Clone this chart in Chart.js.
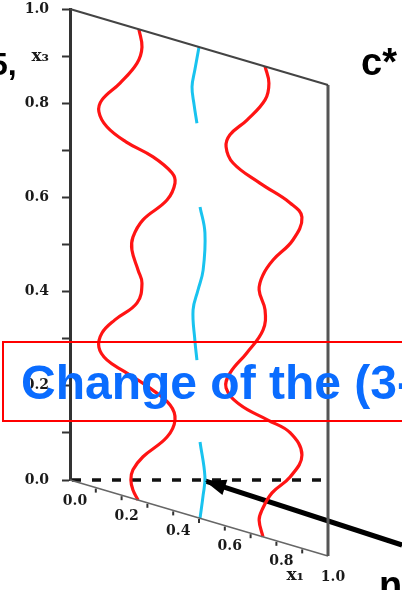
<!DOCTYPE html>
<html>
<head>
<meta charset="utf-8">
<script src="https://cdn.jsdelivr.net/npm/chart.js@4.4.1/dist/chart.umd.min.js"></script>
<style>
  html, body { margin: 0; padding: 0; background: #fff; }
  #wrap { width: 402px; height: 590px; overflow: hidden; }
</style>
</head>
<body>
<div id="wrap"><canvas id="chart" width="402" height="590"></canvas></div>
<script>
// oblique view: the x1 axis runs down-right, so a point sinks by SKEW * x1
const SKEW = 76 / 471;

// vertical axis (x3)
const x3TickLabels = ['0.0', '', '0.2', '', '0.4', '', '0.6', '', '0.8', 'x\u2083', '1.0'];

// slanted axis (x1)
const x1Ticks = [0, 0.2, 0.4, 0.6, 0.8, 1.0];
const x1TickLabels = ['0.0', '0.2', '0.4', '0.6', '0.8', '1.0'];
const x1MinorTicks = [0.1, 0.2, 0.3, 0.4, 0.5, 0.6, 0.7, 0.8, 0.9];

// box edges (x1, x3)
const topEdgeX1 = [0, 1];
const topEdgeX3 = [1, 1];
const rightEdgeX1 = [1, 1];
const rightEdgeX3 = [1, 0];
const bottomEdgeX1 = [0, 1];
const bottomEdgeX3 = [0, 0];

// red interface, left
const redLeftX3 = [1.0, 0.964, 0.927, 0.874, 0.827, 0.800, 0.773, 0.753, 0.738, 0.716,
  0.696, 0.655, 0.598, 0.555, 0.527, 0.488, 0.463, 0.418, 0.368, 0.332,
  0.300, 0.278, 0.264, 0.245, 0.222, 0.193, 0.152, 0.095, 0.061, 0.038, 0.018, 0.0];
const redLeftX1 = [0.267, 0.279, 0.260, 0.194, 0.124, 0.112, 0.143, 0.217, 0.322, 0.395,
  0.407, 0.376, 0.283, 0.244, 0.240, 0.264, 0.279, 0.260, 0.174, 0.124,
  0.112, 0.143, 0.213, 0.310, 0.388, 0.407, 0.376, 0.283, 0.244, 0.236, 0.244, 0.264];

// red interface, right
const redRightX3 = [1.0, 0.967, 0.929, 0.875, 0.833, 0.805, 0.775, 0.749, 0.726, 0.703,
  0.649, 0.594, 0.556, 0.522, 0.483, 0.439, 0.381, 0.327, 0.293, 0.266,
  0.251, 0.238, 0.198, 0.144, 0.099, 0.056, 0.033, 0.0];
const redRightX1 = [0.756, 0.771, 0.756, 0.686, 0.620, 0.605, 0.632, 0.736, 0.853, 0.899,
  0.864, 0.787, 0.748, 0.733, 0.756, 0.748, 0.686, 0.620, 0.605, 0.659,
  0.767, 0.853, 0.899, 0.853, 0.783, 0.744, 0.733, 0.748];

// cyan midline (broken)
const cyanX3 = [1.0, 0.949, 0.911, 0.874, 0.837, null, 0.661, 0.609, 0.529, 0.483, 0.438, 0.375, 0.334, null, 0.162, 0.091, 0.051, 0.0];
const cyanX1 = [0.500, 0.484, 0.473, 0.481, 0.492, null, 0.504, 0.523, 0.516, 0.496, 0.477, 0.484, 0.492, null, 0.504, 0.523, 0.516, 0.504];

// dashed level line and pointer arrow (screen plane)
const levelX = [0, 0.977];
const levelY = [0, 0];
const arrowX = [1.287, 0.523];
const arrowY = [-0.138, -0.002];

const proj = (x1s, x3s) => x1s.map((v, i) =>
  v == null ? { x: null, y: null } : { x: v, y: x3s[i] - SKEW * v });
const flat = (xs, ys) => xs.map((v, i) => ({ x: v, y: ys[i] }));

const line = (data, color, width, extra) => Object.assign({
  data, borderColor: color, borderWidth: width, pointRadius: 0,
  showLine: true, fill: false, clip: false, tension: 0,
}, extra || {});

const overlay = {
  id: 'overlay',
  afterDatasetsDraw(chart) {
    const { ctx, scales: { x, y } } = chart;
    const px = (x1, x3) => [x.getPixelForValue(x1), y.getPixelForValue(x3 - SKEW * x1)];
    ctx.save();

    // slanted axis ticks + labels
    ctx.strokeStyle = '#333';
    ctx.lineWidth = 2;
    x1MinorTicks.forEach((v) => {
      const [a, b] = px(v, 0);
      ctx.beginPath();
      ctx.moveTo(a, b + 1);
      ctx.lineTo(a, b + 5);
      ctx.stroke();
    });
    ctx.fillStyle = '#1a1a1a';
    ctx.font = 'bold 14px "DejaVu Serif"';
    ctx.textAlign = 'center';
    ctx.textBaseline = 'middle';
    x1Ticks.forEach((v, i) => {
      const [a, b] = px(v, 0);
      ctx.fillText(x1TickLabels[i], a + 5, b + 21);
    });
    const [ea, eb] = px(1, 0);
    ctx.textAlign = 'right';
    ctx.font = 'bold 17px "DejaVu Serif"';
    ctx.fillText('x\u2081', ea - 24, eb + 20);

    // arrowhead
    const pts = chart.getDatasetMeta(chart.data.datasets.length - 1).data;
    const tail = pts[0], tip = pts[1];
    const ang = Math.atan2(tip.y - tail.y, tip.x - tail.x);
    ctx.fillStyle = '#000';
    ctx.beginPath();
    ctx.moveTo(tip.x, tip.y);
    ctx.lineTo(tip.x - 21 * Math.cos(ang) + 8 * Math.sin(ang), tip.y - 21 * Math.sin(ang) - 8 * Math.cos(ang));
    ctx.lineTo(tip.x - 21 * Math.cos(ang) - 8 * Math.sin(ang), tip.y - 21 * Math.sin(ang) + 8 * Math.cos(ang));
    ctx.closePath();
    ctx.fill();

    // slide text around the figure
    ctx.textAlign = 'left';
    ctx.textBaseline = 'alphabetic';
    ctx.fillStyle = '#000';
    ctx.font = 'bold 32px "Liberation Sans"';
    ctx.fillText('5,', -10, 75);
    ctx.font = 'bold 38px "Liberation Sans"';
    ctx.fillText('c*', 361, 75);
    ctx.fillText('n', 379, 598);

    ctx.strokeStyle = '#ff0000';
    ctx.lineWidth = 2;
    ctx.strokeRect(3, 342, 420, 79);
    ctx.fillStyle = '#0a6cff';
    ctx.font = 'bold 48px "Liberation Sans"';
    ctx.fillText('Change of the (3-', 21, 399);
    ctx.restore();
  },
};

new Chart(document.getElementById('chart'), {
  type: 'scatter',
  data: {
    datasets: [
      line(proj(topEdgeX1, topEdgeX3), '#444', 2),
      line(proj(rightEdgeX1, rightEdgeX3), '#555', 3),
      line(proj(bottomEdgeX1, bottomEdgeX3), '#666', 1.5),
      line(proj(redLeftX1, redLeftX3), '#ff1414', 3.2, { tension: 0.4 }),
      line(proj(redRightX1, redRightX3), '#ff1414', 3.2, { tension: 0.4 }),
      line(proj(cyanX1, cyanX3), '#19c3ef', 3, { tension: 0.4, spanGaps: false }),
      line(flat(levelX, levelY), '#111', 3.5, { borderDash: [9, 11], borderDashOffset: 18 }),
      line(flat(arrowX, arrowY), '#000', 5),
    ],
  },
  options: {
    responsive: false,
    devicePixelRatio: 1,
    animation: false,
    layout: { padding: { top: 9, right: 74, bottom: 110, left: 0 } },
    plugins: { legend: { display: false }, tooltip: { enabled: false } },
    scales: {
      x: { type: 'linear', min: 0, max: 1, display: false },
      y: {
        type: 'linear',
        min: 0,
        max: 1,
        afterFit: (s) => { s.width = 70; s.paddingTop = 0; s.paddingBottom = 0; },
        border: { display: true, color: '#333', width: 3 },
        grid: { drawOnChartArea: false, tickLength: 8, tickColor: '#333', tickWidth: 2 },
        ticks: {
          stepSize: 0.1,
          padding: 13,
          autoSkip: false,
          color: '#1a1a1a',
          font: (c) => ({ family: 'DejaVu Serif', size: c.index === 9 ? 17 : 14, weight: 'bold' }),
          callback: (v, i) => x3TickLabels[i],
        },
      },
    },
  },
  plugins: [overlay],
});
</script>
</body>
</html>
